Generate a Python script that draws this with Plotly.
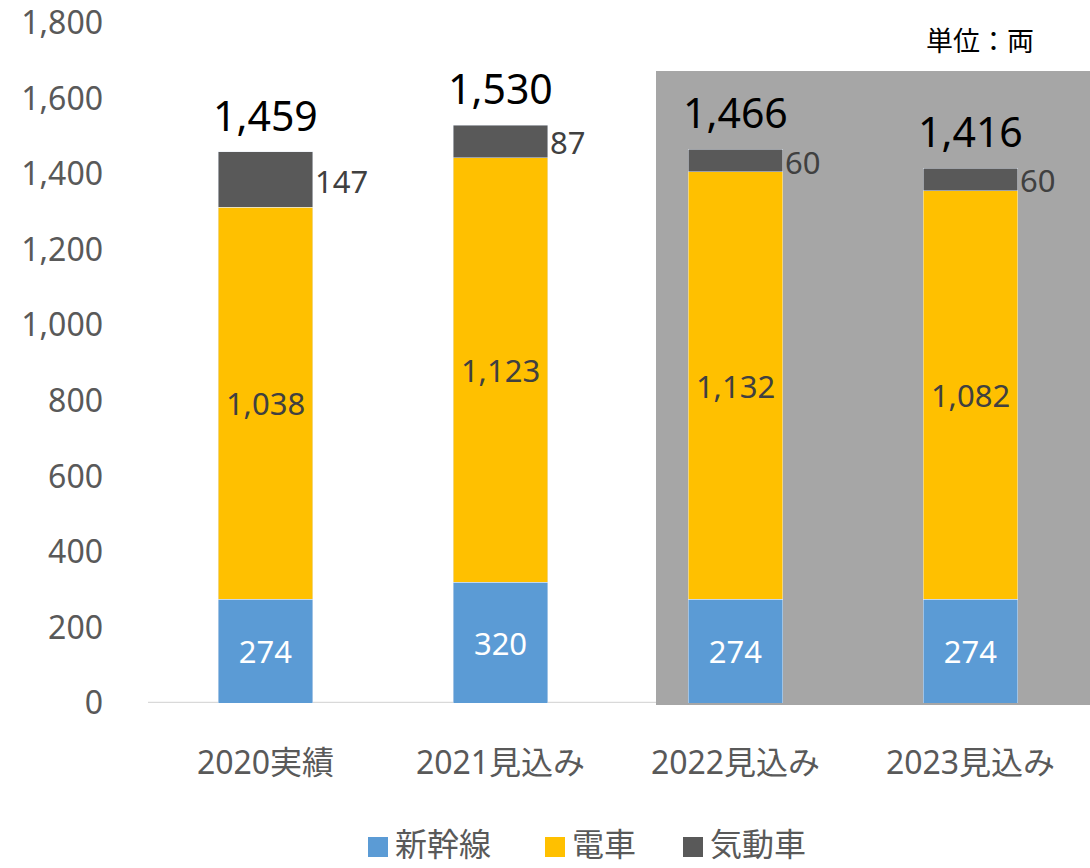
import plotly.graph_objects as go

categories = ["2020実績", "2021見込み", "2022見込み", "2023見込み"]
shinkansen = [274, 320, 274, 274]
densha = [1038, 1123, 1132, 1082]
kidosha = [147, 87, 60, 60]
totals = [s + d + k for s, d, k in zip(shinkansen, densha, kidosha)]
y_ticks = [0, 200, 400, 600, 800, 1000, 1200, 1400, 1600, 1800]
series_names = ["新幹線", "電車", "気動車"]

FONT = "Noto Sans, Noto Sans CJK JP, sans-serif"
C_BLUE = "#5B9BD5"
C_YEL = "#FFC000"
C_GRAY = "#595959"
colors = [C_BLUE, C_YEL, C_GRAY]

W, H = 1090, 868
L, R, T, B = 148, 2, 23, 165
PW, PH = W - L - R, H - T - B


def px_x(p):
    return (p - L) / PW


def px_y(p):
    return (H - B - p) / PH


fig = go.Figure()
fig.add_trace(go.Bar(x=categories, y=shinkansen, name=series_names[0], marker_color=C_BLUE,
                     texttemplate="%{y:,}", textposition="inside", insidetextanchor="middle",
                     textfont=dict(color="white", size=31, family=FONT), showlegend=False))
fig.add_trace(go.Bar(x=categories, y=densha, name=series_names[1], marker_color=C_YEL,
                     texttemplate="%{y:,}", textposition="inside", insidetextanchor="middle",
                     textfont=dict(color="#404040", size=31, family=FONT), showlegend=False))
fig.add_trace(go.Bar(x=categories, y=kidosha, name=series_names[2], marker_color=C_GRAY,
                     textposition="none", showlegend=False))

annotations = []
for c, s, d, k, t in zip(categories, shinkansen, densha, kidosha, totals):
    annotations.append(dict(x=c, y=s + d + k / 2, text=f"{k:,}", showarrow=False,
                            xanchor="left", xshift=47, yshift=-1,
                            font=dict(size=31, color="#404040", family=FONT)))
    annotations.append(dict(x=c, y=t, text=f"{t:,}", showarrow=False,
                            yanchor="bottom", yshift=7,
                            font=dict(size=41, color="black", family=FONT)))
annotations.append(dict(x=px_x(1036), xref="paper", y=px_y(40), yref="paper", text="単位：両",
                        showarrow=False, xanchor="right", yanchor="middle",
                        font=dict(size=27, color="black", family=FONT)))

shapes = [
    dict(type="line", xref="paper", yref="y", x0=0, x1=1, y0=0, y1=0,
         line=dict(color="#D9D9D9", width=2.5), layer="below"),
    dict(type="rect", xref="paper", yref="paper", x0=px_x(656), x1=px_x(1092),
         y0=px_y(705), y1=px_y(71), fillcolor="#A6A6A6", line=dict(width=0), layer="below"),
]

# manual legend (larger square swatches, as in the reference)
legend_sq_left = [368, 545, 683]
for nm, col, xl in zip(series_names, colors, legend_sq_left):
    shapes.append(dict(type="rect", xref="paper", yref="paper",
                       x0=px_x(xl), x1=px_x(xl + 20), y0=px_y(857), y1=px_y(837),
                       fillcolor=col, line=dict(width=0)))
    annotations.append(dict(x=px_x(xl + 25), xref="paper", y=px_y(843), yref="paper",
                            text=nm, showarrow=False, xanchor="left", yanchor="middle",
                            font=dict(size=32, color="#595959", family=FONT)))

fig.update_layout(
    width=W, height=H,
    margin=dict(l=L, r=R, t=T, b=B, autoexpand=False),
    barmode="stack", bargap=0.596,
    plot_bgcolor="white", paper_bgcolor="white",
    font=dict(family=FONT, color="#595959"),
    showlegend=False,
    annotations=annotations, shapes=shapes,
    xaxis=dict(showline=False, showgrid=False, ticks="", automargin=False,
               tickfont=dict(size=32, color="#595959"), ticklabelstandoff=38),
    yaxis=dict(range=[0, 1800], tickvals=y_ticks, tickformat=",", showgrid=False,
               showline=False, zeroline=False, ticks="", automargin=False,
               tickfont=dict(size=32, color="#595959"), ticklabelstandoff=44),
)

fig.write_html("out.html")
